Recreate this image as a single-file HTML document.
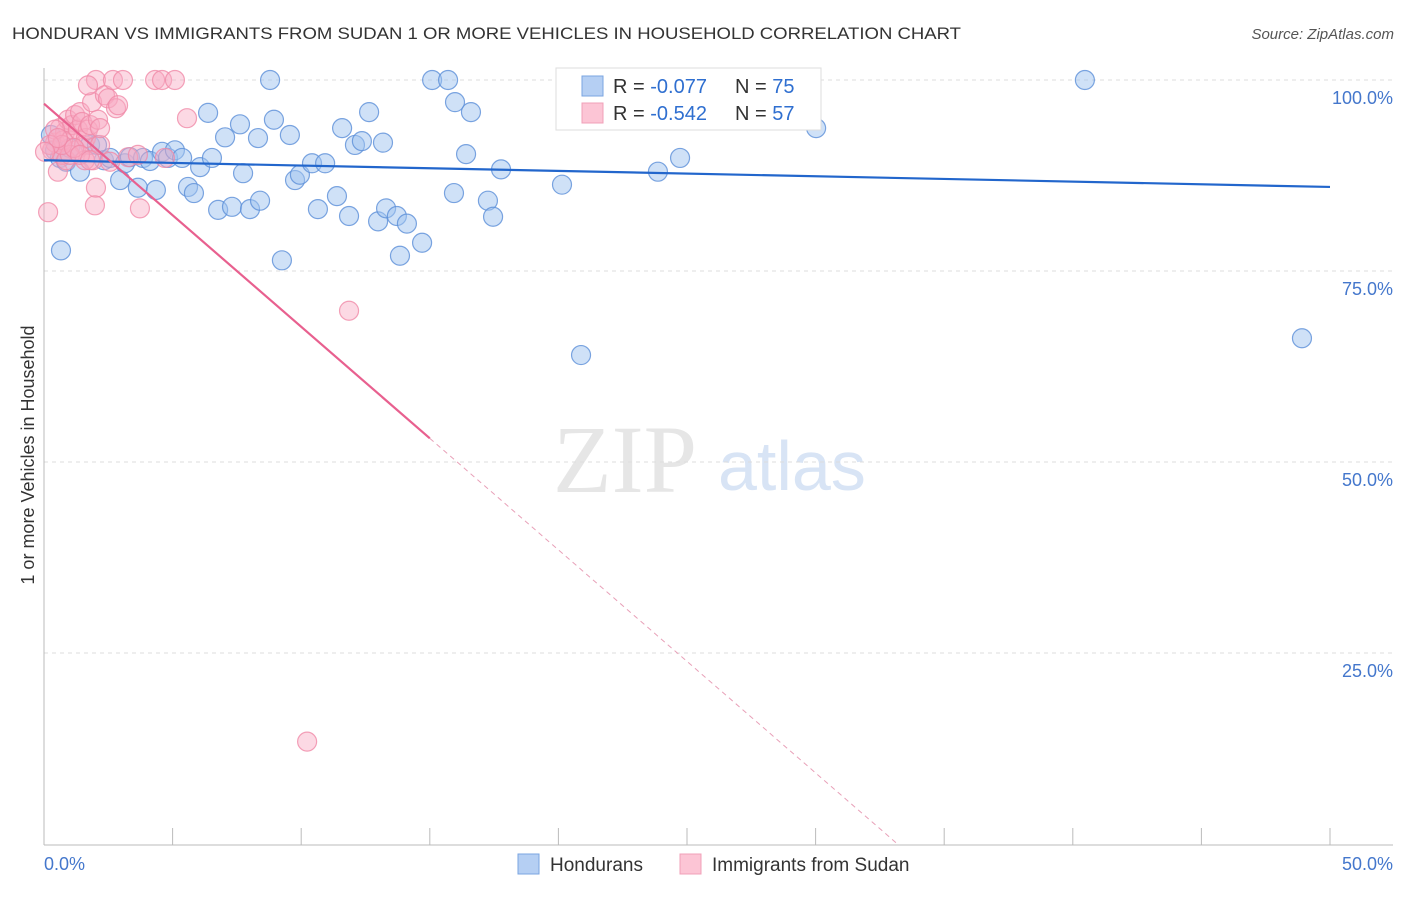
<!DOCTYPE html>
<html><head><meta charset="utf-8"><style>
body{margin:0;background:#fff;font-family:"Liberation Sans",sans-serif;}
</style></head><body>
<svg width="1406" height="892" xmlns="http://www.w3.org/2000/svg" font-family="Liberation Sans, sans-serif">
<text x="12" y="39" font-size="17" fill="#333" textLength="949" lengthAdjust="spacingAndGlyphs">HONDURAN VS IMMIGRANTS FROM SUDAN 1 OR MORE VEHICLES IN HOUSEHOLD CORRELATION CHART</text>
<text x="1394" y="39" font-size="15" fill="#555" text-anchor="end" font-style="italic">Source: ZipAtlas.com</text>
<g>
<text x="553" y="492" font-size="96" font-family="Liberation Serif, serif" fill="#e6e6e6">ZIP</text>
<text x="718" y="490" font-size="70" fill="#d8e4f5">atlas</text>
</g>
<g id="grid"></g>
<g id="axes"></g>
<g id="pts"></g>
<g id="lines"></g>
<text transform="translate(34,455) rotate(-90)" font-size="18" fill="#333" text-anchor="middle">1 or more Vehicles in Household</text>
<text x="44" y="870" font-size="18" fill="#4477cc">0.0%</text>
<text x="1393" y="870" font-size="18" fill="#4477cc" text-anchor="end">50.0%</text>
<g>
<rect x="556" y="68" width="265" height="62" fill="#fff" stroke="#ddd"/>
<rect x="582" y="76" width="21" height="20" fill="#b5cff3" stroke="#7aa4e0"/>
<rect x="582" y="103" width="21" height="20" fill="#fcc5d5" stroke="#f0a0b8"/>
<text x="613" y="93" font-size="20" fill="#333">R = <tspan fill="#2f6fd0">-0.077</tspan></text>
<text x="735" y="93" font-size="20" fill="#333">N = <tspan fill="#2f6fd0">75</tspan></text>
<text x="613" y="120" font-size="20" fill="#333">R = <tspan fill="#2f6fd0">-0.542</tspan></text>
<text x="735" y="120" font-size="20" fill="#333">N = <tspan fill="#2f6fd0">57</tspan></text>
</g>
<g>
<rect x="518" y="854" width="21" height="20" fill="#b5cff3" stroke="#7aa4e0"/>
<text x="550" y="871" font-size="19" fill="#333">Hondurans</text>
<rect x="680" y="854" width="21" height="20" fill="#fcc5d5" stroke="#f0a0b8"/>
<text x="712" y="871" font-size="19" fill="#333">Immigrants from Sudan</text>
</g>
</svg>
<script>
const yTicks=[25,50,75,100];
const yTickLabels=["25.0%","50.0%","75.0%","100.0%"];
const xTicks=[0,5,10,15,20,25,30,35,40,45,50];
const blueX=[0.27,0.43,0.62,0.86,1.01,1.40,1.79,2.06,2.33,2.57,2.96,3.15,3.34,3.65,3.85,4.12,4.35,4.59,4.82,5.09,5.37,5.60,5.83,6.07,6.38,6.53,6.77,7.04,7.31,7.62,7.74,8.01,8.32,8.40,8.79,8.94,9.25,9.56,9.76,9.95,10.42,10.65,10.93,11.39,11.59,11.86,12.09,12.36,12.64,12.99,13.18,13.30,13.72,13.84,14.11,14.70,15.09,15.71,15.98,16.41,16.60,15.94,17.26,17.46,17.77,20.14,20.88,23.87,24.73,27.37,28.15,30.02,40.47,48.91,0.66];
const blueY=[92.8,90.8,89.8,89.3,91.1,88.0,91.5,91.5,89.5,89.8,86.9,89.1,89.9,85.9,89.8,89.4,85.6,90.6,89.8,90.8,89.8,86.0,85.2,88.6,95.7,89.8,83.0,92.5,83.4,94.2,87.8,83.1,92.4,84.2,100,94.8,76.4,92.8,86.9,87.6,89.1,83.1,89.1,84.8,93.7,82.2,91.5,92.0,95.8,81.5,91.8,83.2,82.2,77.0,81.2,78.7,100,100,97.1,90.3,95.8,85.2,84.2,82.1,88.3,86.3,64.0,88.0,89.8,100,100,93.7,100,66.2,77.7];
const pinkX=[0.16,0.31,0.43,0.54,0.62,0.70,0.82,0.93,1.01,1.09,1.21,1.24,1.32,1.40,1.48,1.56,1.63,1.71,1.79,1.87,1.91,2.02,2.02,1.98,2.10,2.18,2.37,2.49,2.57,2.68,2.80,2.88,3.07,3.27,3.65,3.73,4.32,4.59,4.70,5.09,5.56,11.86,10.23,0.74,0.86,1.01,1.59,2.18,1.71,0.43,0.70,1.17,1.40,1.79,0.23,0.54,0.04];
const pinkY=[82.7,90.8,91.8,88.0,93.7,90.2,93.2,94.8,92.1,94.1,95.4,90.8,93.5,95.8,94.5,91.5,92.4,93.5,94.1,97.1,89.5,100,85.9,83.6,94.8,91.5,98.0,97.6,89.3,100,96.3,96.7,100,89.9,90.2,83.2,100,100,89.8,100,95.0,69.8,13.4,92.1,89.5,90.2,89.5,93.7,99.3,93.5,91.5,91.1,90.2,89.5,91.5,92.4,90.6];
const blueTrend=[89.5,86.0];
const pinkTrend=[96.9,-0.0292];
const pinkSolidEnd=15.0;
const NS="http://www.w3.org/2000/svg";
const sx=v=>44+v*25.72, sy=v=>844-v*7.64;
function mk(tag,attrs,parent){const e=document.createElementNS(NS,tag);for(const k in attrs)e.setAttribute(k,attrs[k]);parent.appendChild(e);return e;}
const grid=document.getElementById('grid'),axes=document.getElementById('axes'),pts=document.getElementById('pts'),lines=document.getElementById('lines');
yTicks.forEach((t,i)=>{
 const l=mk('line',{x1:44,x2:1393,y1:sy(t),y2:sy(t),stroke:'#ddd','stroke-dasharray':'4,4'},grid);
 
 
 const tx=mk('text',{x:1393,y:sy(t)+24,'font-size':18,fill:'#4477cc','text-anchor':'end'},grid);
 tx.textContent=yTickLabels[i];
 
 
});
const ax=mk('line',{x1:44,x2:1393,y1:845,y2:845,stroke:'#bbb'},axes);


const ay=mk('line',{x1:44,x2:44,y1:68,y2:845,stroke:'#bbb'},axes);


xTicks.forEach(t=>{const l=mk('line',{x1:sx(t),x2:sx(t),y1:828,y2:845,stroke:'#bbb'},axes);
 
 });
blueX.forEach((v,i)=>{const c=mk('circle',{cx:sx(v),cy:sy(blueY[i]),r:9.5,fill:'rgba(160,196,240,0.5)',stroke:'#5b8fd8','stroke-width':1.2,'stroke-opacity':0.8},pts);
 
 });
pinkX.forEach((v,i)=>{const c=mk('circle',{cx:sx(v),cy:sy(pinkY[i]),r:9.5,fill:'rgba(248,170,195,0.45)',stroke:'#f08aa8','stroke-width':1.2,'stroke-opacity':0.8},pts);
 
 });
const bl=mk('line',{x1:sx(0),y1:sy(blueTrend[0]),x2:sx(50),y2:sy(blueTrend[1]),stroke:'#2266cc','stroke-width':2.2},lines);


const pz=-pinkTrend[0]/(pinkTrend[1]*100);
const pyv=x=>pinkTrend[0]+pinkTrend[1]*100*x;
const ps=mk('line',{x1:sx(0),y1:sy(pyv(0)),x2:sx(pinkSolidEnd),y2:sy(pyv(pinkSolidEnd)),stroke:'#e8608f','stroke-width':2.2},lines);


const pd=mk('line',{x1:sx(pinkSolidEnd),y1:sy(pyv(pinkSolidEnd)),x2:sx(pz),y2:sy(0),stroke:'#e8a0b8','stroke-width':1,'stroke-dasharray':'5,4'},lines);


</script>
</body></html>
